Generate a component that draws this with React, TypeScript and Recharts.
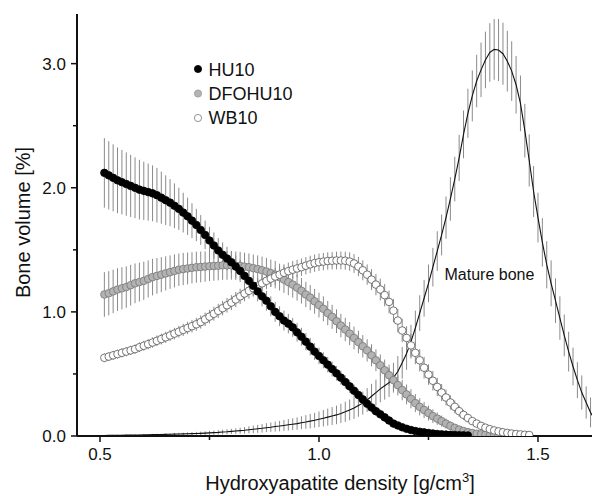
import React from 'react';
import { ComposedChart, Line, XAxis, YAxis, ErrorBar } from 'recharts';

const FONT = '"Liberation Sans", Arial, Helvetica, sans-serif';

// Hydroxyapatite density bins [g/cm3]
const densityBins = [
  0.50, 0.51, 0.52, 0.53, 0.54, 0.55, 0.56, 0.57, 0.58, 0.59,
  0.60, 0.61, 0.62, 0.63, 0.64, 0.65, 0.66, 0.67, 0.68, 0.69,
  0.70, 0.71, 0.72, 0.73, 0.74, 0.75, 0.76, 0.77, 0.78, 0.79,
  0.80, 0.81, 0.82, 0.83, 0.84, 0.85, 0.86, 0.87, 0.88, 0.89,
  0.90, 0.91, 0.92, 0.93, 0.94, 0.95, 0.96, 0.97, 0.98, 0.99,
  1.00, 1.01, 1.02, 1.03, 1.04, 1.05, 1.06, 1.07, 1.08, 1.09,
  1.10, 1.11, 1.12, 1.13, 1.14, 1.15, 1.16, 1.17, 1.18, 1.19,
  1.20, 1.21, 1.22, 1.23, 1.24, 1.25, 1.26, 1.27, 1.28, 1.29,
  1.30, 1.31, 1.32, 1.33, 1.34, 1.35, 1.36, 1.37, 1.38, 1.39,
  1.40, 1.41, 1.42, 1.43, 1.44, 1.45, 1.46, 1.47, 1.48, 1.49,
  1.50, 1.51, 1.52, 1.53, 1.54, 1.55, 1.56, 1.57, 1.58, 1.59,
  1.60, 1.61, 1.62, 1.63,
];

// HU10 : 0.51 .. 1.34
const hu10Values = [
  2.12, 2.10, 2.08, 2.06, 2.045, 2.03, 2.015, 2.00, 1.985, 1.975,
  1.965, 1.955, 1.94, 1.92, 1.90, 1.88, 1.855, 1.83, 1.80, 1.77,
  1.735, 1.70, 1.66, 1.62, 1.575, 1.535, 1.495, 1.46, 1.43, 1.40,
  1.365, 1.33, 1.29, 1.25, 1.21, 1.165, 1.125, 1.09, 1.045, 1.00,
  0.965, 0.93, 0.905, 0.875, 0.835, 0.80, 0.76, 0.72, 0.68, 0.645,
  0.61, 0.575, 0.54, 0.505, 0.47, 0.435, 0.40, 0.365, 0.33, 0.295,
  0.26, 0.23, 0.20, 0.175, 0.15, 0.125, 0.10, 0.085, 0.07, 0.058,
  0.048, 0.04, 0.034, 0.029, 0.024, 0.02, 0.016, 0.013, 0.011, 0.009,
  0.007, 0.006, 0.005, 0.004,
];
const hu10Errors = [
  0.28, 0.275, 0.27, 0.265, 0.26, 0.255, 0.25, 0.245, 0.24, 0.235,
  0.23, 0.225, 0.22, 0.21, 0.2, 0.19, 0.18, 0.17, 0.16, 0.15,
  0.14, 0.13, 0.12, 0.115, 0.11, 0.105, 0.1, 0.1, 0.095, 0.09,
  0.09, 0.09, 0.085, 0.085, 0.085, 0.08, 0.08, 0.08, 0.08, 0.08,
  0.08, 0.08, 0.078, 0.076, 0.074, 0.072, 0.07, 0.07, 0.068, 0.066,
  0.064, 0.062, 0.06, 0.058, 0.056, 0.054, 0.052, 0.05, 0.048, 0.046,
  0.044, 0.042, 0.04, 0.038, 0.036, 0.034, 0.03, 0.026, 0.022, 0.018,
  0.015, 0.012, 0.01, 0.009, 0.008, 0.007, 0.006, 0.005, 0.004, 0.004,
  0.003, 0.003, 0.002, 0.002,
];

// DFOHU10 : 0.51 .. 1.42
const dfoValues = [
  1.14, 1.15, 1.165, 1.18, 1.19, 1.20, 1.215, 1.23, 1.24, 1.25,
  1.265, 1.28, 1.29, 1.30, 1.31, 1.32, 1.33, 1.34, 1.345, 1.35,
  1.355, 1.36, 1.362, 1.365, 1.368, 1.37, 1.372, 1.375, 1.375, 1.375,
  1.372, 1.37, 1.365, 1.36, 1.352, 1.345, 1.335, 1.325, 1.312, 1.30,
  1.28, 1.26, 1.24, 1.22, 1.195, 1.17, 1.14, 1.115, 1.085, 1.055,
  1.025, 0.99, 0.96, 0.925, 0.89, 0.858, 0.825, 0.79, 0.757, 0.723,
  0.69, 0.65, 0.61, 0.57, 0.53, 0.49, 0.45, 0.41, 0.37, 0.335,
  0.30, 0.265, 0.235, 0.21, 0.185, 0.16, 0.14, 0.12, 0.10, 0.082,
  0.066, 0.052, 0.04, 0.031, 0.024, 0.018, 0.014, 0.01, 0.008, 0.006,
  0.004, 0.003,
];
const dfoErrors = [
  0.18, 0.178, 0.175, 0.172, 0.17, 0.167, 0.164, 0.16, 0.157, 0.154,
  0.15, 0.147, 0.144, 0.141, 0.138, 0.135, 0.133, 0.131, 0.13, 0.128,
  0.126, 0.125, 0.124, 0.122, 0.12, 0.119, 0.118, 0.117, 0.116, 0.115,
  0.114, 0.113, 0.112, 0.111, 0.11, 0.11, 0.11, 0.11, 0.11, 0.11,
  0.108, 0.107, 0.106, 0.105, 0.104, 0.103, 0.102, 0.101, 0.1, 0.1,
  0.1, 0.098, 0.097, 0.096, 0.095, 0.094, 0.093, 0.092, 0.091, 0.09,
  0.09, 0.089, 0.088, 0.087, 0.086, 0.085, 0.084, 0.083, 0.082, 0.08,
  0.077, 0.073, 0.069, 0.065, 0.06, 0.055, 0.05, 0.045, 0.04, 0.035,
  0.03, 0.026, 0.022, 0.018, 0.015, 0.012, 0.01, 0.008, 0.006, 0.005,
  0.004, 0.003,
];

// WB10 : 0.51 .. 1.48
const wbValues = [
  0.63, 0.64, 0.65, 0.66, 0.67, 0.68, 0.69, 0.70, 0.715, 0.727,
  0.74, 0.753, 0.767, 0.781, 0.795, 0.81, 0.825, 0.84, 0.855, 0.87,
  0.885, 0.90, 0.918, 0.94, 0.962, 0.985, 1.008, 1.03, 1.053, 1.075,
  1.10, 1.125, 1.148, 1.17, 1.19, 1.21, 1.23, 1.25, 1.268, 1.285,
  1.30, 1.315, 1.328, 1.34, 1.35, 1.36, 1.372, 1.383, 1.393, 1.40,
  1.405, 1.41, 1.412, 1.414, 1.414, 1.412, 1.405, 1.39, 1.365, 1.335,
  1.30, 1.26, 1.22, 1.18, 1.135, 1.08, 1.01, 0.93, 0.85, 0.79,
  0.73, 0.67, 0.61, 0.55, 0.495, 0.445, 0.395, 0.35, 0.31, 0.27,
  0.235, 0.20, 0.17, 0.145, 0.12, 0.10, 0.082, 0.067, 0.055, 0.045,
  0.037, 0.03, 0.025, 0.02, 0.016, 0.013, 0.01, 0.008,
];
const wbErrors = [
  0.035, 0.035, 0.036, 0.036, 0.037, 0.037, 0.038, 0.038, 0.039, 0.04,
  0.041, 0.042, 0.043, 0.044, 0.045, 0.046, 0.047, 0.048, 0.049, 0.05,
  0.051, 0.052, 0.053, 0.054, 0.055, 0.056, 0.057, 0.058, 0.059, 0.06,
  0.061, 0.062, 0.063, 0.064, 0.065, 0.066, 0.066, 0.067, 0.067, 0.068,
  0.068, 0.069, 0.069, 0.07, 0.07, 0.07, 0.07, 0.07, 0.07, 0.07,
  0.07, 0.07, 0.07, 0.071, 0.072, 0.073, 0.074, 0.076, 0.078, 0.08,
  0.082, 0.084, 0.086, 0.088, 0.09, 0.092, 0.094, 0.095, 0.095, 0.095,
  0.094, 0.092, 0.09, 0.087, 0.083, 0.079, 0.074, 0.069, 0.064, 0.058,
  0.052, 0.046, 0.04, 0.035, 0.03, 0.026, 0.022, 0.018, 0.015, 0.012,
  0.01, 0.008, 0.007, 0.006, 0.005, 0.004, 0.003, 0.003,
];

// Mature bone : 0.50 .. 1.63
const matureValues = [
  0.004, 0.0045, 0.005, 0.0055, 0.006, 0.0065, 0.007, 0.0075, 0.008, 0.0085,
  0.009, 0.010, 0.011, 0.0115, 0.012, 0.013, 0.014, 0.015, 0.016, 0.017,
  0.018, 0.019, 0.020, 0.0215, 0.023, 0.025, 0.027, 0.029, 0.032, 0.034,
  0.037, 0.040, 0.043, 0.046, 0.05, 0.054, 0.058, 0.062, 0.067, 0.071,
  0.076, 0.08, 0.085, 0.09, 0.095, 0.10, 0.107, 0.113, 0.12, 0.127,
  0.135, 0.143, 0.152, 0.161, 0.17, 0.182, 0.195, 0.21, 0.225, 0.245,
  0.265, 0.29, 0.32, 0.35, 0.38, 0.405, 0.43, 0.47, 0.52, 0.59,
  0.665, 0.76, 0.87, 0.99, 1.11, 1.23, 1.36, 1.49, 1.62, 1.76,
  1.91, 2.07, 2.24, 2.43, 2.60, 2.74, 2.86, 2.95, 3.03, 3.09,
  3.115, 3.11, 3.08, 3.02, 2.94, 2.83, 2.68, 2.46, 2.22, 1.97,
  1.76, 1.56, 1.38, 1.23, 1.09, 0.95, 0.81, 0.68, 0.56, 0.45,
  0.35, 0.27, 0.19, 0.13,
];
const matureErrors = [
  0.003, 0.003, 0.003, 0.003, 0.004, 0.004, 0.004, 0.004, 0.005, 0.005,
  0.005, 0.006, 0.006, 0.007, 0.007, 0.008, 0.008, 0.009, 0.01, 0.01,
  0.011, 0.012, 0.013, 0.014, 0.015, 0.016, 0.017, 0.018, 0.019, 0.02,
  0.021, 0.022, 0.024, 0.026, 0.028, 0.03, 0.032, 0.034, 0.036, 0.038,
  0.04, 0.042, 0.044, 0.046, 0.048, 0.05, 0.052, 0.055, 0.058, 0.06,
  0.063, 0.066, 0.069, 0.072, 0.075, 0.078, 0.081, 0.084, 0.087, 0.09,
  0.093, 0.096, 0.1, 0.104, 0.108, 0.112, 0.116, 0.12, 0.124, 0.128,
  0.132, 0.136, 0.14, 0.144, 0.148, 0.152, 0.156, 0.16, 0.165, 0.17,
  0.175, 0.18, 0.186, 0.192, 0.198, 0.205, 0.212, 0.22, 0.228, 0.236,
  0.245, 0.25, 0.25, 0.245, 0.24, 0.232, 0.224, 0.216, 0.21, 0.205,
  0.2, 0.195, 0.19, 0.185, 0.18, 0.175, 0.168, 0.16, 0.152, 0.145,
  0.138, 0.13, 0.12, 0.11,
];

const xTicks = [0.5, 0.75, 1.0, 1.25, 1.5];
const xMajor = [0.5, 1.0, 1.5];
const yTicks = [0, 0.5, 1.0, 1.5, 2.0, 2.5, 3.0];
const yMajor = [0, 1.0, 2.0, 3.0];

const seriesNames = ['HU10', 'DFOHU10', 'WB10'];
const annotation = 'Mature bone';

function build(values: number[], errors: number[], startBin: number) {
  const offset = densityBins.indexOf(startBin);
  return values.map((v, i) => ({ x: densityBins[offset + i], y: v, err: errors[i] }));
}

const hu10Data = build(hu10Values, hu10Errors, 0.51);
const dfoData = build(dfoValues, dfoErrors, 0.51);
const wbData = build(wbValues, wbErrors, 0.51);
const matureData = build(matureValues, matureErrors, 0.5);

const AXIS = '#111';
const TICK_SIZE = 6;
const TICK_MARGIN = 5;

const YTick = (props: any) => {
  const { x, y, payload } = props;
  const axisX = x + TICK_SIZE + TICK_MARGIN;
  const v = payload.value;
  const major = yMajor.some((m) => Math.abs(m - v) < 1e-6);
  return (
    <g>
      <line x1={axisX - (major ? 6 : 4)} x2={axisX} y1={y} y2={y} stroke={AXIS} strokeWidth={1.5} />
      {major && (
        <text x={axisX - 11} y={y} dy="0.36em" textAnchor="end" fontSize={17} fontFamily={FONT} fill="#111">
          {v.toFixed(1)}
        </text>
      )}
    </g>
  );
};

const XTick = (props: any) => {
  const { x, y, payload } = props;
  const axisY = y - TICK_SIZE - TICK_MARGIN;
  const v = payload.value;
  const major = xMajor.some((m) => Math.abs(m - v) < 1e-6);
  return (
    <g>
      <line x1={x} x2={x} y1={axisY} y2={axisY + (major ? 6 : 4)} stroke={AXIS} strokeWidth={1.5} />
      {major && (
        <text x={x} y={axisY + 24} textAnchor="middle" fontSize={17} fontFamily={FONT} fill="#111">
          {v.toFixed(1)}
        </text>
      )}
    </g>
  );
};

const errStroke = '#8a8a8a';

export default function App() {
  return (
    <div style={{ position: 'relative', width: 592, height: 488, fontFamily: FONT }}>
      <ComposedChart width={592} height={488} margin={{ top: 6, right: 0, bottom: 0, left: 0 }}>
        <XAxis
          type="number"
          dataKey="x"
          domain={[0.4475, 1.6416]}
          ticks={xTicks}
          allowDataOverflow
          height={60}
          tickSize={TICK_SIZE}
          tickMargin={TICK_MARGIN}
          tickLine={false}
          tick={(p: any) => <XTick {...p} />}
          axisLine={{ stroke: AXIS, strokeWidth: 2 }}
        />
        <YAxis
          type="number"
          domain={[0, 3.4]}
          ticks={yTicks}
          allowDataOverflow
          width={69}
          tickSize={TICK_SIZE}
          tickMargin={TICK_MARGIN}
          tickLine={false}
          tick={(p: any) => <YTick {...p} />}
          axisLine={{ stroke: AXIS, strokeWidth: 2 }}
        />

        {/* error bars */}
        <Line data={matureData} dataKey="y" stroke="none" dot={false} activeDot={false} isAnimationActive={false}>
          <ErrorBar dataKey="err" direction="y" width={0} stroke={errStroke} strokeWidth={1} isAnimationActive={false} />
        </Line>
        <Line data={wbData} dataKey="y" stroke="none" dot={false} activeDot={false} isAnimationActive={false}>
          <ErrorBar dataKey="err" direction="y" width={0} stroke={errStroke} strokeWidth={1} isAnimationActive={false} />
        </Line>
        <Line data={dfoData} dataKey="y" stroke="none" dot={false} activeDot={false} isAnimationActive={false}>
          <ErrorBar dataKey="err" direction="y" width={0} stroke={errStroke} strokeWidth={1} isAnimationActive={false} />
        </Line>
        <Line data={hu10Data} dataKey="y" stroke="none" dot={false} activeDot={false} isAnimationActive={false}>
          <ErrorBar dataKey="err" direction="y" width={0} stroke={errStroke} strokeWidth={1} isAnimationActive={false} />
        </Line>

        {/* markers and line */}
        <Line
          data={dfoData}
          dataKey="y"
          stroke="none"
          dot={{ r: 3.8, fill: '#b3b3b3', stroke: '#777', strokeWidth: 0.8 }}
          activeDot={false}
          isAnimationActive={false}
        />
        <Line
          data={wbData}
          dataKey="y"
          stroke="none"
          dot={{ r: 3.8, fill: '#fff', stroke: '#555', strokeWidth: 0.8 }}
          activeDot={false}
          isAnimationActive={false}
        />
        <Line
          data={matureData}
          dataKey="y"
          type="linear"
          stroke="#111"
          strokeWidth={1.1}
          dot={false}
          activeDot={false}
          isAnimationActive={false}
        />
        <Line
          data={hu10Data}
          dataKey="y"
          stroke="none"
          dot={{ r: 3.8, fill: '#000', stroke: '#000', strokeWidth: 0.8 }}
          activeDot={false}
          isAnimationActive={false}
        />
      </ComposedChart>

      <svg
        width={592}
        height={488}
        style={{ position: 'absolute', left: 0, top: 0, pointerEvents: 'none' }}
      >
        {/* legend */}
        <circle cx={190} cy={61} r={3.6} fill="#000" stroke="#000" strokeWidth={0.8} />
        <text x={200.5} y={67.5} fontSize={18} fontFamily={FONT} fill="#111">{seriesNames[0]}</text>
        <circle cx={190} cy={85.5} r={3.6} fill="#b3b3b3" stroke="#999" strokeWidth={0.8} />
        <text x={200.5} y={92} fontSize={18} fontFamily={FONT} fill="#111">{seriesNames[1]}</text>
        <circle cx={190} cy={110} r={3.6} fill="#fff" stroke="#777" strokeWidth={0.8} />
        <text x={200.5} y={116.3} fontSize={18} fontFamily={FONT} fill="#111">{seriesNames[2]}</text>

        {/* annotation */}
        <text x={436.5} y={272} fontSize={16} fontFamily={FONT} fill="#111">{annotation}</text>

        {/* axis titles */}
        <text x={332} y={482} textAnchor="middle" fontSize={20} fontFamily={FONT} fill="#111">
          Hydroxyapatite density [g/cm
          <tspan dy={-8} fontSize={13}>3</tspan>
          <tspan dy={8} fontSize={20}>]</tspan>
        </text>
        <text
          x={22}
          y={214.5}
          textAnchor="middle"
          fontSize={20}
          fontFamily={FONT}
          fill="#111"
          transform="rotate(-90, 22, 214.5)"
        >
          Bone volume [%]
        </text>
      </svg>
    </div>
  );
}
